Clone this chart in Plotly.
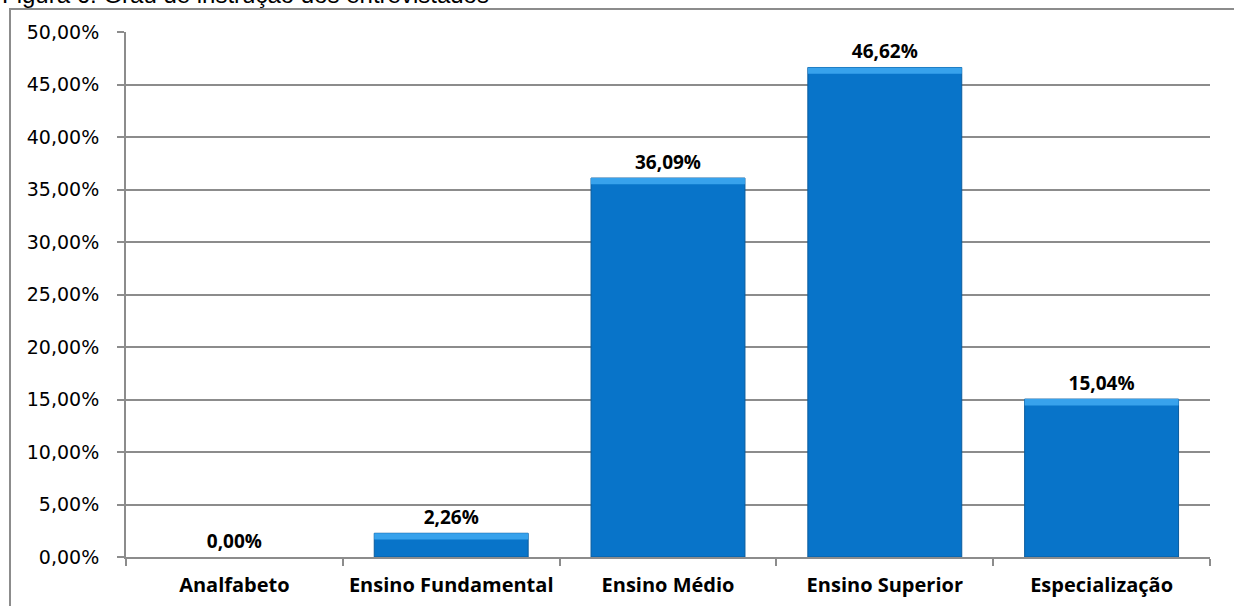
import plotly.graph_objects as go

categorias = ["Analfabeto", "Ensino Fundamental", "Ensino Médio", "Ensino Superior", "Especialização"]
percentuais = [0.00, 2.26, 36.09, 46.62, 15.04]
rotulos = ["0,00%", "2,26%", "36,09%", "46,62%", "15,04%"]
ticks_y = [0, 5, 10, 15, 20, 25, 30, 35, 40, 45, 50]
ticks_y_texto = ["0,00%", "5,00%", "10,00%", "15,00%", "20,00%", "25,00%",
                 "30,00%", "35,00%", "40,00%", "45,00%", "50,00%"]

BEVEL = 0.6  # height of the lighter top bevel, in percentage points

W, H = 1234, 606
ML, MR, MT, MB = 126, 24, 32, 49
PW, PH = W - ML - MR, H - MT - MB


def px_x(p):
    return (p - ML) / PW


def px_y(p):
    return 1 - (p - MT) / PH


fig = go.Figure()

# main bar body
fig.add_trace(go.Bar(
    x=categorias, y=percentuais,
    marker=dict(color="#0874C9",
                line=dict(color="#0A5C9E", width=[0 if v == 0 else 1 for v in percentuais])),
    text=rotulos, textposition="outside", cliponaxis=False,
    textfont=dict(family="Open Sans", size=19, color="#000000", weight="bold"),
    hoverinfo="skip", showlegend=False,
))

# lighter bevel band along the top of each bar
fig.add_trace(go.Bar(
    x=categorias,
    y=[BEVEL if v > 0 else 0 for v in percentuais],
    base=[v - BEVEL if v > 0 else 0 for v in percentuais],
    marker=dict(color="#37A2EC", line=dict(width=0)),
    hoverinfo="skip", showlegend=False,
))

fig.update_layout(
    width=W, height=H,
    margin=dict(l=ML, r=MR, t=MT, b=MB, autoexpand=False),
    paper_bgcolor="white", plot_bgcolor="white",
    barmode="overlay", bargap=0.29,
    font=dict(family="DejaVu Sans", color="#000000"),
    xaxis=dict(
        showgrid=False, showline=True, linecolor="#8C8C8C", linewidth=2,
        ticks="outside", tickson="boundaries", ticklen=7, tickcolor="#8C8C8C", tickwidth=2,
        tickfont=dict(family="Open Sans", size=20, color="#000000", weight="bold"),
        ticklabelstandoff=9, automargin=False,
    ),
    yaxis=dict(
        range=[0, 50], tickvals=ticks_y, ticktext=ticks_y_texto,
        showgrid=True, gridcolor="#8C8C8C", gridwidth=2,
        showline=True, linecolor="#8C8C8C", linewidth=2,
        ticks="outside", ticklen=7, tickcolor="#8C8C8C", tickwidth=2,
        tickfont=dict(family="DejaVu Sans", size=19, color="#000000"),
        ticklabelstandoff=14, zeroline=False, automargin=False,
    ),
    shapes=[dict(
        type="rect", xref="paper", yref="paper",
        x0=px_x(10), x1=px_x(1260), y0=px_y(640), y1=px_y(9),
        line=dict(color="#8C8C8C", width=2), fillcolor="rgba(0,0,0,0)", layer="below",
    )],
    annotations=[dict(
        text="Figura 6: Grau de instrução dos entrevistados",
        xref="paper", yref="paper", x=px_x(0), y=px_y(-5),
        xanchor="left", yanchor="middle", showarrow=False,
        font=dict(family="Liberation Sans", size=24, color="#000000"),
    )],
)

fig.write_html("out.html")
